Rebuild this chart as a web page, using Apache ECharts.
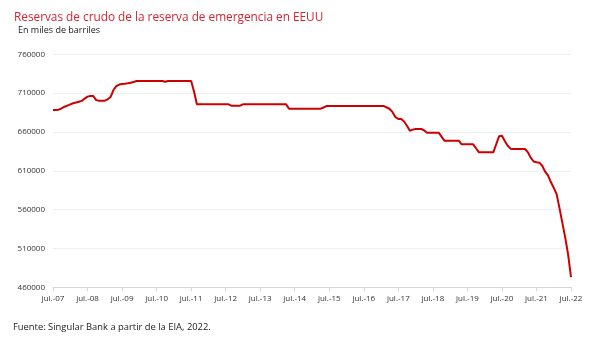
<!DOCTYPE html>
<html><head><meta charset="utf-8">
<script src="https://cdn.jsdelivr.net/npm/echarts@6/dist/echarts.min.js"></script>
<style>html,body{margin:0;padding:0;background:#fff}#c{width:600px;height:337px}</style>
</head><body><div id="c"></div>
<script>
const titleText = 'Reservas de crudo de la reserva de emergencia en EEUU';
const subtitleText = 'En miles de barriles';
const sourceText = 'Fuente: Singular Bank a partir de la EIA, 2022.';
const monthNames = ['ene.','feb.','mar.','abr.','may.','jun.','jul.','ago.','sep.','oct.','nov.','dic.'];
// Monthly, Jul-2007 .. Jul-2022 (thousand barrels)
const values2007_2009 = [688300,688300,688700,690500,692500,694000,695500,696900,698000,699000,700000,703000,705500,706300,706300,701000,700300,700300,700300,702000,705000,714000,719000,721000,721800,722200,722800,723500,724200,725600];
const values2010_2011 = [725600,725600,725600,725600,725600,725600,725600,725600,725600,724600,725600,725600,725600,725600,725600,725600,725600,725600,725600,712000];
const values2011_2014 = [695600,695600,695600,695600,695600,695600,695600,695600,695600,695600,695600,695600,693800,693800,693800,693800,695600,695600,695600,695600,695600,695600,695600,695600,695600,695600,695600,695600,695600,695600,695600,695600];
const values2014_2017 = [690000,690000,690000,690000,690000,690000,690000,690000,690000,690000,690000,690000,691500,693400,693400,693400,693400,693400,693400,693400,693400,693400,693400,693400,693400,693400,693400,693400,693400,693400,693400,693400,693400,693400];
const values2017_2020 = [691500,689600,685500,679000,676700,676700,673500,668000,661500,663000,663800,663800,663800,662000,659100,659100,659100,659100,659100,654000,648800,648800,648800,648800,648800,648800,644100,644100,644100,644100,644100,639000,633800,633800,633800,633800,633800,633800,644000,654500,655200,648500,642300,638500,638100,638100,638100,638100,638100];
const values2021_2022 = [634000,627000,622000,621000,620500,616500,609000,604000,595500,588000,580000,562000,543000,524000,502000,473000];
const values = [].concat(values2007_2009, values2010_2011, values2011_2014, values2014_2017, values2017_2020, values2021_2022);
const categories = [];
for (let i = 0; i < values.length; i++) {
  const m = (6 + i) % 12, y = 7 + Math.floor((6 + i) / 12);
  categories.push(monthNames[m] + '-' + String(y).padStart(2, '0'));
}
const yTicks = [460000, 510000, 560000, 610000, 660000, 710000, 760000];

const chart = echarts.init(document.getElementById('c'), null, {renderer: 'canvas'});
const F = 'Open Sans';
chart.setOption({
  animation: false,
  textStyle: {fontFamily: F},
  title: [
    {text: titleText, left: 9, top: 7, textStyle: {color: '#d42530', fontSize: 11.8, fontWeight: 'normal', fontFamily: F}},
    {text: subtitleText, left: 13, top: 21, textStyle: {color: '#222', fontSize: 9, fontWeight: 'normal', fontFamily: F}},
    {text: sourceText, left: 8, top: 318, textStyle: {color: '#222', fontSize: 9.4, fontWeight: 'normal', fontFamily: F}}
  ],
  grid: {left: 53, right: 29, top: 54.3, bottom: 49.7, containLabel: false},
  xAxis: {
    type: 'category', data: categories, boundaryGap: false,
    axisLine: {lineStyle: {color: '#d6d6d6'}},
    axisTick: {show: true, interval: 11, length: 4, lineStyle: {color: '#d6d6d6'}},
    axisLabel: {interval: 11, color: '#333', fontSize: 8, margin: 7, fontFamily: F},
    splitLine: {show: false}
  },
  yAxis: {
    type: 'value', min: yTicks[0], max: yTicks[yTicks.length - 1], interval: 50000,
    axisLine: {show: false}, axisTick: {show: false},
    axisLabel: {color: '#333', fontSize: 8, margin: 8, fontFamily: F, formatter: v => String(v)},
    splitLine: {lineStyle: {color: '#efefef'}}
  },
  series: [{
    type: 'line', data: values, showSymbol: false, symbol: 'none',
    lineStyle: {color: '#cc0000', width: 2}
  }]
});
</script></body></html>
